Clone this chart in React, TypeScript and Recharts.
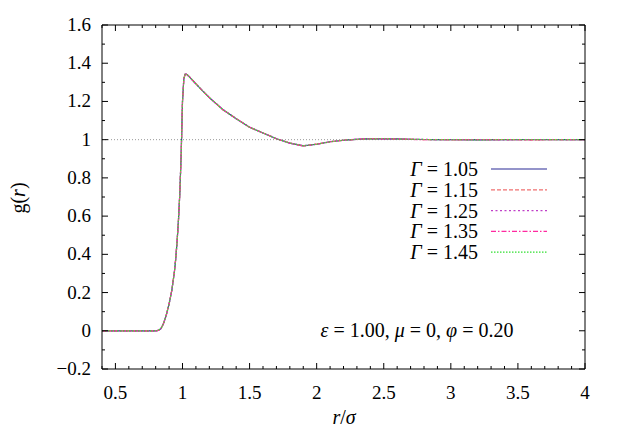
import React from 'react';
import { LineChart, Line, XAxis, YAxis, ReferenceLine } from 'recharts';

// r/sigma sample points
const rValues = [
  0.4, 0.8, 0.82, 0.84, 0.86, 0.88, 0.9, 0.92, 0.94, 0.95, 0.96, 0.97, 0.98, 0.99, 1.0,
  1.01, 1.02, 1.03, 1.05, 1.1, 1.15, 1.2, 1.3, 1.4, 1.5, 1.6, 1.7, 1.8, 1.9, 2.0,
  2.1, 2.2, 2.3, 2.4, 2.5, 2.6, 2.7, 2.8, 2.9, 3.0, 3.2, 3.4, 3.6, 3.8, 4.0,
];

// g(r) for each Gamma
const g105 = [
  0, 0, 0.002, 0.012, 0.04, 0.085, 0.14, 0.21, 0.31, 0.38, 0.47, 0.58, 0.72, 0.92, 1.2,
  1.32, 1.342, 1.343, 1.33, 1.292, 1.255, 1.22, 1.158, 1.11, 1.065, 1.035, 1.005, 0.982, 0.968, 0.976,
  0.989, 0.997, 1.002, 1.005, 1.004, 1.004, 1.002, 1.001, 1.0, 1.0, 0.999, 1.0, 1.001, 1.0, 1.0,
];
const g115 = [
  0, 0, 0.002, 0.012, 0.041, 0.086, 0.14, 0.21, 0.31, 0.38, 0.47, 0.58, 0.72, 0.92, 1.2,
  1.32, 1.341, 1.342, 1.331, 1.293, 1.254, 1.221, 1.157, 1.111, 1.064, 1.036, 1.004, 0.983, 0.967, 0.977,
  0.988, 0.998, 1.001, 1.004, 1.006, 1.003, 1.003, 1.0, 1.001, 0.999, 1.0, 1.001, 0.999, 1.0, 1.0,
];
const g125 = [
  0, 0, 0.002, 0.011, 0.04, 0.085, 0.139, 0.21, 0.31, 0.379, 0.47, 0.58, 0.72, 0.92, 1.2,
  1.321, 1.342, 1.343, 1.329, 1.291, 1.256, 1.219, 1.159, 1.109, 1.066, 1.034, 1.006, 0.981, 0.969, 0.975,
  0.99, 0.996, 1.003, 1.005, 1.005, 1.002, 1.001, 1.002, 0.999, 1.001, 1.0, 0.999, 1.0, 1.001, 1.0,
];
const g135 = [
  0, 0, 0.002, 0.012, 0.04, 0.084, 0.14, 0.211, 0.31, 0.38, 0.471, 0.58, 0.72, 0.92, 1.2,
  1.32, 1.343, 1.342, 1.33, 1.292, 1.255, 1.22, 1.157, 1.11, 1.065, 1.035, 1.005, 0.982, 0.966, 0.977,
  0.989, 0.997, 1.002, 1.006, 1.004, 1.004, 1.001, 1.0, 1.001, 1.0, 1.001, 1.0, 0.999, 1.0, 1.0,
];
const g145 = [
  0, 0, 0.002, 0.012, 0.04, 0.085, 0.14, 0.21, 0.309, 0.38, 0.47, 0.579, 0.72, 0.92, 1.2,
  1.32, 1.342, 1.343, 1.33, 1.292, 1.255, 1.22, 1.158, 1.11, 1.065, 1.035, 1.005, 0.982, 0.968, 0.976,
  0.989, 0.997, 1.002, 1.004, 1.005, 1.003, 1.002, 1.001, 1.0, 1.0, 0.999, 1.0, 1.0, 1.0, 1.0,
];

const gammaLabels = ['1.05', '1.15', '1.25', '1.35', '1.45'];
const seriesValues = [g105, g115, g125, g135, g145];
const seriesStyles = [
  { color: '#2a2a96', dash: undefined },
  { color: '#f07070', dash: '4 2' },
  { color: '#c040c8', dash: '2 2.5' },
  { color: '#ff2aa0', dash: '5 2 1.5 2' },
  { color: '#30e030', dash: '1.5 1.5' },
];

const xMajor = [0.5, 1, 1.5, 2, 2.5, 3, 3.5, 4];
const yMajor = [-0.2, 0, 0.2, 0.4, 0.6, 0.8, 1, 1.2, 1.4, 1.6];

const xTicks: number[] = [];
for (let i = 4; i <= 40; i++) xTicks.push(i / 10);
const yTicks: number[] = [];
for (let i = -2; i <= 16; i++) yTicks.push(i / 10);

const rows = rValues.map((r, i) => {
  const row: Record<string, number> = { r };
  seriesValues.forEach((s, k) => {
    row['g' + k] = s[i];
  });
  return row;
});

const FONT = "'Liberation Serif', 'DejaVu Serif', serif";
const MAJOR = 6;
const MINOR = 3;

const isMajor = (v: number, list: number[]) => list.some(m => Math.abs(m - v) < 1e-6);
const fmt = (v: number) => String(Math.round(v * 10) / 10).replace('-', '\u2212');

const tickFactory = (side: 'bottom' | 'top' | 'left' | 'right') => (props: any) => {
  const { x, y, payload } = props;
  const v = payload.value as number;
  const major = isMajor(v, side === 'bottom' || side === 'top' ? xMajor : yMajor);
  const len = major ? MAJOR : MINOR;
  if (side === 'bottom') {
    return (
      <g>
        <line x1={x} x2={x} y1={y} y2={y - len} stroke="#000" strokeWidth={1} />
        {major && (
          <text x={x} y={y + 30} textAnchor="middle" fill="#000" style={{ fontFamily: FONT, fontSize: 19 }}>
            {fmt(v)}
          </text>
        )}
      </g>
    );
  }
  if (side === 'top') {
    return <line x1={x} x2={x} y1={y} y2={y + len} stroke="#000" strokeWidth={1} />;
  }
  if (side === 'left') {
    return (
      <g>
        <line x1={x} x2={x + len} y1={y} y2={y} stroke="#000" strokeWidth={1} />
        {major && (
          <text x={x - 11} y={y + 6} textAnchor="end" fill="#000" style={{ fontFamily: FONT, fontSize: 19 }}>
            {fmt(v)}
          </text>
        )}
      </g>
    );
  }
  return <line x1={x} x2={x - len} y1={y} y2={y} stroke="#000" strokeWidth={1} />;
};

const App: React.FC = () => {
  return (
    <div style={{ position: 'absolute', left: 0, top: 0, width: 623, height: 436, background: '#fff', fontFamily: FONT }}>
      <LineChart width={623} height={436} data={rows} margin={{ top: 5, right: 0, bottom: 0, left: 0 }}>
        <XAxis
          xAxisId="b"
          dataKey="r"
          type="number"
          domain={[0.4, 4]}
          ticks={xTicks}
          interval={0}
          allowDataOverflow
          height={67}
          tickSize={0}
          tickMargin={0}
          tickLine={false}
          axisLine={{ stroke: '#000', strokeWidth: 1 }}
          tick={tickFactory('bottom')}
        />
        <XAxis
          xAxisId="t"
          orientation="top"
          dataKey="r"
          type="number"
          domain={[0.4, 4]}
          ticks={xTicks}
          interval={0}
          allowDataOverflow
          height={20}
          tickSize={0}
          tickMargin={0}
          tickLine={false}
          axisLine={{ stroke: '#000', strokeWidth: 1 }}
          tick={tickFactory('top')}
        />
        <YAxis
          yAxisId="l"
          type="number"
          domain={[-0.2, 1.6]}
          ticks={yTicks}
          interval={0}
          allowDataOverflow
          width={102}
          tickSize={0}
          tickMargin={0}
          tickLine={false}
          axisLine={{ stroke: '#000', strokeWidth: 1 }}
          tick={tickFactory('left')}
        />
        <YAxis
          yAxisId="rt"
          orientation="right"
          type="number"
          domain={[-0.2, 1.6]}
          ticks={yTicks}
          interval={0}
          allowDataOverflow
          width={38}
          tickSize={0}
          tickMargin={0}
          tickLine={false}
          axisLine={{ stroke: '#000', strokeWidth: 1 }}
          tick={tickFactory('right')}
        />
        <ReferenceLine xAxisId="b" yAxisId="l" y={1} stroke="#999" strokeDasharray="1 2" strokeWidth={1} />
        {seriesStyles.map((s, k) => (
          <Line
            key={k}
            xAxisId="b"
            yAxisId="l"
            type="linear"
            dataKey={'g' + k}
            stroke={s.color}
            strokeWidth={1.2}
            strokeDasharray={s.dash}
            dot={false}
            activeDot={false}
            isAnimationActive={false}
          />
        ))}
      </LineChart>
      <svg width={623} height={436} style={{ position: 'absolute', left: 0, top: 0, pointerEvents: 'none', fontFamily: FONT }}>
        <g fill="#000" style={{ fontFamily: FONT, fontSize: 20 }}>
          {gammaLabels.map((lab, k) => {
            const y = 169 + k * 20.8;
            return (
              <g key={lab}>
                <text x={478} y={y + 7} textAnchor="end">
                  <tspan fontStyle="italic">{'\u0393'}</tspan>
                  {' = ' + lab}
                </text>
                <line
                  x1={491}
                  x2={547}
                  y1={y}
                  y2={y}
                  stroke={seriesStyles[k].color}
                  strokeWidth={1.2}
                  strokeDasharray={seriesStyles[k].dash}
                />
              </g>
            );
          })}
          <text x={417} y={337} textAnchor="middle">
            <tspan fontStyle="italic">{'\u03b5'}</tspan>
            {' = 1.00, '}
            <tspan fontStyle="italic">{'\u03bc'}</tspan>
            {' = 0, '}
            <tspan fontStyle="italic">{'\u03c6'}</tspan>
            {' = 0.20'}
          </text>
          <text x={344} y={424} textAnchor="middle">
            <tspan fontStyle="italic">r</tspan>
            {'/'}
            <tspan fontStyle="italic">{'\u03c3'}</tspan>
          </text>
          <text x={0} y={0} transform="translate(25 198) rotate(-90)" textAnchor="middle">
            {'g('}
            <tspan fontStyle="italic">r</tspan>
            {')'}
          </text>
        </g>
      </svg>
    </div>
  );
};

export default App;
